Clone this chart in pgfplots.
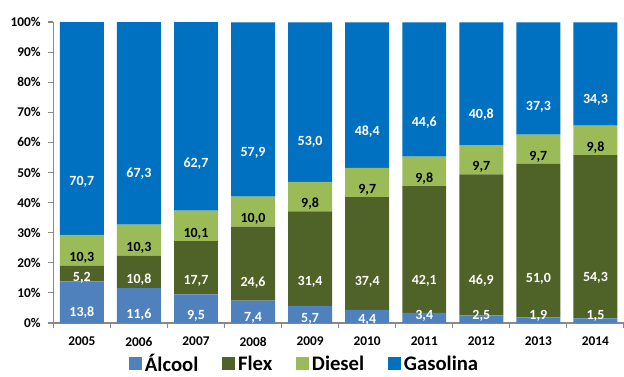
\documentclass[border=0pt]{standalone}
\usepackage{pgfplots}
\pgfplotsset{compat=1.18}
\usepackage{pgfplotstable}
\usepackage{fontspec}
\setmainfont{Carlito}
\definecolor{alc}{HTML}{4F81BD}
\definecolor{flex}{HTML}{4F6228}
\definecolor{dies}{HTML}{9BBB59}
\definecolor{gas}{HTML}{0070C0}
\definecolor{axgray}{HTML}{898989}

\pgfplotstableread{
x alc flex dies gas
0 13.8 5.2 10.3 70.7
1 11.6 10.8 10.3 67.3
2 9.5 17.7 10.1 62.7
3 7.4 24.6 10.0 57.9
4 5.7 31.4 9.8 53.0
5 4.4 37.4 9.7 48.4
6 3.4 42.1 9.8 44.6
7 2.5 46.9 9.7 40.8
8 1.9 51.0 9.7 37.3
9 1.5 54.3 9.8 34.3
}\data

\newcommand{\lab}{\pgfmathprintnumber[fixed,fixed zerofill,precision=1,use comma,assume math mode=true]{\pgfplotspointmeta}}

\begin{document}
\begin{tikzpicture}
\begin{axis}[
  scale only axis,
  width=428pt, height=225.75pt,
  ybar stacked, bar width=0.77,
  xmin=-0.5, xmax=9.5, ymin=0, ymax=100,
  axis x line*=bottom, axis y line*=left,
  axis line style={axgray, line width=0.8pt},
  xtick={0,...,9},
  xticklabels={2005,2006,2007,2008,2009,2010,2011,2012,2013,2014},
  major x tick style={draw=none},
  minor xtick={-0.5,0.5,...,9.5},
  minor x tick style={axgray, line width=0.8pt},
  minor tick length=4pt,
  ytick={0,10,...,100},
  yticklabel={\pgfmathprintnumber[assume math mode=true]{\tick}\%},
  major y tick style={axgray, line width=0.8pt},
  major tick length=4pt,
  tick align=outside,
  ticklabel style={font=\fontsize{10}{12}\selectfont\bfseries},
  xticklabel style={yshift=-3pt},
  yticklabel style={xshift=-2pt},
  point meta=explicit,
  nodes near coords={\lab},
  every node near coord/.append style={anchor=center, font=\fontsize{10.5}{12}\selectfont\bfseries},
  legend style={at={(0.441,-0.136)}, anchor=center, draw=none, fill=none,
    legend columns=4, font=\fontsize{15.5}{18}\selectfont\bfseries,
    inner sep=1pt,
    /tikz/every even column/.append style={column sep=16pt}},
  legend image code/.code={\fill[#1] (0pt,-4.9pt) rectangle (9.8pt,4.9pt);},
]
\addplot[fill=alc, draw=none,
  visualization depends on={\thisrow{alc} \as \rawy},
  every node near coord/.append style={white, yshift={(\rawy<4 ? (4.8-\rawy)/2 : -\rawy/4)*2.2575pt}}]
  table[x=x, y=alc, meta=alc] {\data};
\addplot[fill=flex, draw=none,
  visualization depends on={\thisrow{flex} \as \rawy},
  every node near coord/.append style={white, yshift={-\rawy*0.564375pt}}]
  table[x=x, y=flex, meta=flex] {\data};
\addplot[fill=dies, draw=none,
  visualization depends on={\thisrow{dies} \as \rawy},
  every node near coord/.append style={black, yshift={-\rawy*0.564375pt}}]
  table[x=x, y=dies, meta=dies] {\data};
\addplot[fill=gas, draw=none,
  visualization depends on={\thisrow{gas} \as \rawy},
  every node near coord/.append style={white, yshift={-\rawy*0.564375pt}}]
  table[x=x, y=gas, meta=gas] {\data};
\legend{Álcool, Flex, Diesel, Gasolina}
\end{axis}
\pgfresetboundingbox
\path[use as bounding box] ([xshift=-40pt,yshift=-39.75pt]current axis.south west) rectangle ([yshift=16.5pt]current axis.north east);
\end{tikzpicture}
\end{document}
